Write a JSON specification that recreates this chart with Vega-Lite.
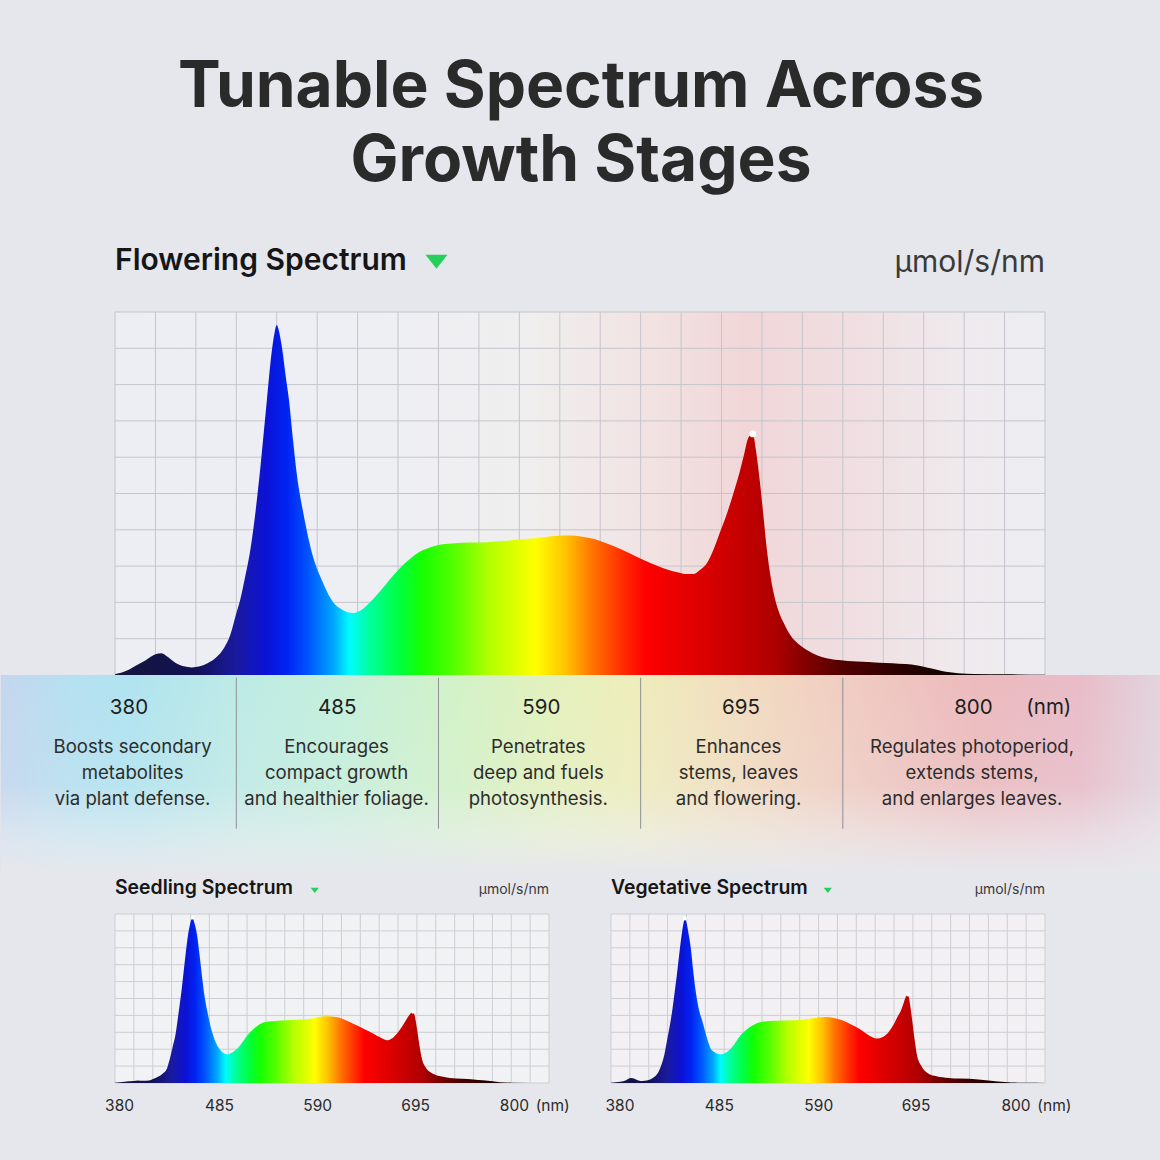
{
  "$schema": "https://vega.github.io/schema/vega-lite/v6.json",
  "background": "#e6e7ec",
  "padding": {"left": 0, "top": 56, "right": 0, "bottom": 60},
  "title": {
    "text": ["Tunable Spectrum Across", "Growth Stages"],
    "fontSize": 64,
    "font": "Inter",
    "fontWeight": 700,
    "color": "#2a2a2a",
    "lineHeight": 74,
    "anchor": "middle",
    "frame": "bounds",
    "offset": 52
  },
  "config": {
    "font": "Inter",
    "view": {"stroke": null},
    "text": {"font": "Inter"}
  },
  "datasets": {
    "gx": [
      {"wl": 380}, {"wl": 400}, {"wl": 420}, {"wl": 440}, {"wl": 460}, {"wl": 480}, {"wl": 500}, {"wl": 520},
      {"wl": 540}, {"wl": 560}, {"wl": 580}, {"wl": 600}, {"wl": 620}, {"wl": 640}, {"wl": 660}, {"wl": 680},
      {"wl": 700}, {"wl": 720}, {"wl": 740}, {"wl": 760}, {"wl": 780}, {"wl": 800}, {"wl": 820}, {"wl": 840}
    ],
    "gy": [
      {"v": 0}, {"v": 1}, {"v": 2}, {"v": 3}, {"v": 4}, {"v": 5}, {"v": 6}, {"v": 7}, {"v": 8}, {"v": 9}, {"v": 10}
    ],
    "flowering": [
      {"wl": 380, "v": 0.02}, {"wl": 385, "v": 0.1}, {"wl": 390, "v": 0.25}, {"wl": 395, "v": 0.4},
      {"wl": 400, "v": 0.57}, {"wl": 403, "v": 0.6}, {"wl": 406, "v": 0.5}, {"wl": 410, "v": 0.33},
      {"wl": 414, "v": 0.24}, {"wl": 418, "v": 0.21}, {"wl": 422, "v": 0.24}, {"wl": 426, "v": 0.33},
      {"wl": 430, "v": 0.48}, {"wl": 434, "v": 0.75}, {"wl": 437, "v": 1.1}, {"wl": 440, "v": 1.7},
      {"wl": 442, "v": 2.09}, {"wl": 444, "v": 2.6}, {"wl": 447, "v": 3.47}, {"wl": 449.5, "v": 4.5},
      {"wl": 452, "v": 5.77}, {"wl": 455, "v": 7.5}, {"wl": 457.5, "v": 8.9}, {"wl": 459, "v": 9.45},
      {"wl": 460, "v": 9.64}, {"wl": 461, "v": 9.5}, {"wl": 462.7, "v": 8.98}, {"wl": 464.5, "v": 8.2},
      {"wl": 466, "v": 7.6}, {"wl": 468, "v": 6.5}, {"wl": 470, "v": 5.5}, {"wl": 473.4, "v": 4.39},
      {"wl": 478, "v": 3.25}, {"wl": 482, "v": 2.65}, {"wl": 485, "v": 2.28}, {"wl": 488, "v": 2.0},
      {"wl": 491.5, "v": 1.83}, {"wl": 495, "v": 1.73}, {"wl": 498, "v": 1.71}, {"wl": 502, "v": 1.8},
      {"wl": 506, "v": 2.0}, {"wl": 511, "v": 2.3}, {"wl": 516, "v": 2.64}, {"wl": 521, "v": 2.95},
      {"wl": 526, "v": 3.2}, {"wl": 531, "v": 3.4}, {"wl": 536, "v": 3.52}, {"wl": 542, "v": 3.6},
      {"wl": 548, "v": 3.63}, {"wl": 556, "v": 3.65}, {"wl": 564, "v": 3.66}, {"wl": 572, "v": 3.69},
      {"wl": 580, "v": 3.73}, {"wl": 590, "v": 3.78}, {"wl": 598, "v": 3.83}, {"wl": 605, "v": 3.84},
      {"wl": 611, "v": 3.81}, {"wl": 617, "v": 3.75}, {"wl": 623, "v": 3.63}, {"wl": 630, "v": 3.47},
      {"wl": 638, "v": 3.26}, {"wl": 646, "v": 3.06}, {"wl": 652, "v": 2.93}, {"wl": 658, "v": 2.83},
      {"wl": 663, "v": 2.78}, {"wl": 666, "v": 2.78}, {"wl": 669, "v": 2.88}, {"wl": 673, "v": 3.1},
      {"wl": 676, "v": 3.45}, {"wl": 679, "v": 3.9}, {"wl": 683, "v": 4.5}, {"wl": 686, "v": 5.03},
      {"wl": 689, "v": 5.6}, {"wl": 691, "v": 6.04}, {"wl": 693.4, "v": 6.55}, {"wl": 695.5, "v": 6.64},
      {"wl": 697, "v": 6.2}, {"wl": 699, "v": 5.31}, {"wl": 700.7, "v": 4.4}, {"wl": 702.4, "v": 3.47},
      {"wl": 704, "v": 2.8}, {"wl": 705.7, "v": 2.28}, {"wl": 708, "v": 1.8}, {"wl": 710.6, "v": 1.45},
      {"wl": 714, "v": 1.1}, {"wl": 719, "v": 0.81}, {"wl": 725, "v": 0.6}, {"wl": 730, "v": 0.49},
      {"wl": 738, "v": 0.41}, {"wl": 747, "v": 0.37}, {"wl": 758, "v": 0.34}, {"wl": 771, "v": 0.3},
      {"wl": 777, "v": 0.26}, {"wl": 782, "v": 0.2}, {"wl": 787, "v": 0.14}, {"wl": 791, "v": 0.09},
      {"wl": 797, "v": 0.05}, {"wl": 805, "v": 0.03}, {"wl": 820, "v": 0.02}, {"wl": 840, "v": 0.01}
    ],
    "floweringPeaks": [{"wl": 695.5, "v": 6.64}],
    "seedling": [
      {"wl": 380, "v": 0.02}, {"wl": 390, "v": 0.08}, {"wl": 400, "v": 0.12}, {"wl": 404, "v": 0.15},
      {"wl": 410, "v": 0.13}, {"wl": 416, "v": 0.15}, {"wl": 421, "v": 0.25}, {"wl": 426, "v": 0.38},
      {"wl": 431, "v": 0.58}, {"wl": 435, "v": 0.85}, {"wl": 438, "v": 1.4}, {"wl": 441, "v": 2.1},
      {"wl": 444, "v": 2.82}, {"wl": 447.5, "v": 4.2}, {"wl": 451, "v": 5.7}, {"wl": 454, "v": 7.2},
      {"wl": 457, "v": 8.6}, {"wl": 460, "v": 9.5}, {"wl": 462, "v": 9.78}, {"wl": 464, "v": 9.5},
      {"wl": 467, "v": 8.75}, {"wl": 470, "v": 7.4}, {"wl": 472.5, "v": 6.18}, {"wl": 475, "v": 5.1},
      {"wl": 478, "v": 4.2}, {"wl": 482, "v": 3.2}, {"wl": 486.6, "v": 2.43}, {"wl": 491, "v": 2.0},
      {"wl": 495, "v": 1.78}, {"wl": 499, "v": 1.7}, {"wl": 503, "v": 1.78}, {"wl": 509.5, "v": 2.03},
      {"wl": 515, "v": 2.4}, {"wl": 520, "v": 2.8}, {"wl": 524, "v": 3.04}, {"wl": 530, "v": 3.35},
      {"wl": 536, "v": 3.55}, {"wl": 541, "v": 3.62}, {"wl": 550, "v": 3.67}, {"wl": 562, "v": 3.71},
      {"wl": 572, "v": 3.74}, {"wl": 583, "v": 3.77}, {"wl": 592, "v": 3.85}, {"wl": 600, "v": 3.93},
      {"wl": 605, "v": 3.95}, {"wl": 612, "v": 3.92}, {"wl": 619, "v": 3.85}, {"wl": 627, "v": 3.65},
      {"wl": 636, "v": 3.41}, {"wl": 645, "v": 3.17}, {"wl": 654, "v": 2.92}, {"wl": 661, "v": 2.7},
      {"wl": 668, "v": 2.53}, {"wl": 674, "v": 2.65}, {"wl": 680, "v": 3.0}, {"wl": 685, "v": 3.4},
      {"wl": 689.5, "v": 3.81}, {"wl": 693, "v": 4.1}, {"wl": 695.8, "v": 4.21}, {"wl": 698, "v": 3.9},
      {"wl": 700, "v": 3.22}, {"wl": 702.5, "v": 2.3}, {"wl": 705.3, "v": 1.44}, {"wl": 709, "v": 0.95},
      {"wl": 714, "v": 0.65}, {"wl": 720, "v": 0.48}, {"wl": 728, "v": 0.37}, {"wl": 735, "v": 0.3},
      {"wl": 748, "v": 0.25}, {"wl": 760, "v": 0.21}, {"wl": 770, "v": 0.16}, {"wl": 780, "v": 0.1},
      {"wl": 788, "v": 0.05}, {"wl": 800, "v": 0.02}, {"wl": 840, "v": 0.0}
    ],
    "seedlingPeaks": [{"wl": 462, "v": 9.78}, {"wl": 695.8, "v": 4.21}],
    "vegetative": [
      {"wl": 380, "v": 0.02}, {"wl": 390, "v": 0.07}, {"wl": 396, "v": 0.17}, {"wl": 401, "v": 0.3},
      {"wl": 405, "v": 0.25}, {"wl": 409, "v": 0.15}, {"wl": 413.5, "v": 0.12}, {"wl": 418, "v": 0.15},
      {"wl": 422, "v": 0.22}, {"wl": 425.8, "v": 0.35}, {"wl": 430, "v": 0.62}, {"wl": 433, "v": 1.0},
      {"wl": 436.4, "v": 1.64}, {"wl": 439, "v": 2.4}, {"wl": 442, "v": 3.3}, {"wl": 445.2, "v": 4.4},
      {"wl": 448, "v": 5.6}, {"wl": 450, "v": 6.5}, {"wl": 452.2, "v": 7.56}, {"wl": 455, "v": 8.8},
      {"wl": 457, "v": 9.5}, {"wl": 458.3, "v": 9.74}, {"wl": 460, "v": 9.5}, {"wl": 462, "v": 8.9},
      {"wl": 464.6, "v": 7.96}, {"wl": 467, "v": 6.7}, {"wl": 469.9, "v": 5.39}, {"wl": 473, "v": 4.4},
      {"wl": 477, "v": 3.62}, {"wl": 481, "v": 2.8}, {"wl": 485.8, "v": 2.03}, {"wl": 490, "v": 1.82},
      {"wl": 496.3, "v": 1.7}, {"wl": 501, "v": 1.78}, {"wl": 506.9, "v": 2.03}, {"wl": 512, "v": 2.4},
      {"wl": 517, "v": 2.8}, {"wl": 522.8, "v": 3.12}, {"wl": 530, "v": 3.4}, {"wl": 540.4, "v": 3.62},
      {"wl": 555, "v": 3.68}, {"wl": 575.6, "v": 3.71}, {"wl": 590, "v": 3.8}, {"wl": 600, "v": 3.88},
      {"wl": 607.4, "v": 3.91}, {"wl": 616, "v": 3.85}, {"wl": 625, "v": 3.71}, {"wl": 634, "v": 3.48},
      {"wl": 642.6, "v": 3.22}, {"wl": 650, "v": 2.95}, {"wl": 656, "v": 2.74}, {"wl": 662, "v": 2.63},
      {"wl": 668, "v": 2.72}, {"wl": 674.3, "v": 3.02}, {"wl": 680, "v": 3.5}, {"wl": 684, "v": 3.95},
      {"wl": 686.7, "v": 4.21}, {"wl": 690, "v": 4.7}, {"wl": 692.5, "v": 5.1}, {"wl": 694.8, "v": 5.23},
      {"wl": 696.8, "v": 4.7}, {"wl": 699, "v": 3.81}, {"wl": 701.5, "v": 2.7}, {"wl": 704.3, "v": 1.64},
      {"wl": 709, "v": 1.0}, {"wl": 716.6, "v": 0.55}, {"wl": 725, "v": 0.4}, {"wl": 737.8, "v": 0.3},
      {"wl": 750, "v": 0.26}, {"wl": 769.5, "v": 0.21}, {"wl": 780, "v": 0.15}, {"wl": 790, "v": 0.09},
      {"wl": 804.5, "v": 0.03}, {"wl": 820, "v": 0.01}, {"wl": 840, "v": 0.0}
    ],
    "vegetativePeaks": [{"wl": 458.3, "v": 9.74}, {"wl": 694.8, "v": 5.23}],
    "bands": [
      {"wl": 386.9, "t": "380"}, {"wl": 489.9, "t": "485"}, {"wl": 590.9, "t": "590"},
      {"wl": 689.6, "t": "695"}, {"wl": 804.6, "t": "800"}, {"wl": 841.9, "t": "(nm)"}
    ],
    "descriptions": [
      {"wl": 388.7, "t": "Boosts secondary\nmetabolites\nvia plant defense."},
      {"wl": 489.6, "t": "Encourages\ncompact growth\nand healthier foliage."},
      {"wl": 589.4, "t": "Penetrates\ndeep and fuels\nphotosynthesis."},
      {"wl": 688.4, "t": "Enhances\nstems, leaves\nand flowering."},
      {"wl": 803.9, "t": "Regulates photoperiod,\nextends stems,\nand enlarges leaves."}
    ],
    "dividers": [{"wl": 440}, {"wl": 540}, {"wl": 640}, {"wl": 740}],
    "seedlingTicks": [
      {"wl": 384.8, "t": "380"}, {"wl": 490.8, "t": "485"}, {"wl": 594.8, "t": "590"},
      {"wl": 698.7, "t": "695"}, {"wl": 803.3, "t": "800"}, {"wl": 843.9, "t": "(nm)"}
    ],
    "vegetativeTicks": [
      {"wl": 389.5, "t": "380"}, {"wl": 494.8, "t": "485"}, {"wl": 600.2, "t": "590"},
      {"wl": 703.3, "t": "695"}, {"wl": 809.3, "t": "800"}, {"wl": 849.9, "t": "(nm)"}
    ]
  },
  "spacing": 0,
  "bounds": "flush",
  "vconcat": [
    {
      "width": 930,
      "height": 363,
      "view": {
        "stroke": null,
        "fill": {"gradient": "linear", "x1": 0, "x2": 1, "y1": 0, "y2": 0, "stops": [
          {"offset": 0, "color": "#eceef4"}, {"offset": 0.3, "color": "#eeeff3"},
          {"offset": 0.45, "color": "#f0eeee"}, {"offset": 0.58, "color": "#f2e2e2"},
          {"offset": 0.68, "color": "#f1d6d8"}, {"offset": 0.8, "color": "#f0dfe2"},
          {"offset": 0.9, "color": "#efe9ec"}, {"offset": 1, "color": "#edeef2"}
        ]}
      },
      "layer": [
        {
          "data": {"name": "gx"},
          "mark": {"type": "rule", "color": "#c4c5cc", "strokeWidth": 1},
          "encoding": {
            "x": {"field": "wl", "type": "quantitative", "scale": {"domain": [380, 840], "nice": false, "zero": false}, "axis": null},
            "y": {"datum": 0, "type": "quantitative", "scale": {"domain": [0, 10], "nice": false, "zero": false}, "axis": null},
            "y2": {"datum": 10}
          }
        },
        {
          "data": {"name": "gy"},
          "mark": {"type": "rule", "color": "#c4c5cc", "strokeWidth": 1},
          "encoding": {
            "y": {"field": "v", "type": "quantitative", "scale": {"domain": [0, 10], "nice": false, "zero": false}, "axis": null},
            "x": {"datum": 380, "type": "quantitative", "scale": {"domain": [380, 840], "nice": false, "zero": false}, "axis": null},
            "x2": {"datum": 840}
          }
        },
        {
          "data": {"name": "flowering"},
          "mark": {"type": "area", "interpolate": "monotone", "color": {"gradient": "linear", "x1": 0, "x2": 1, "y1": 0, "y2": 0, "stops": [
            {"offset": 0, "color": "#16163a"}, {"offset": 0.087, "color": "#111155"},
            {"offset": 0.13, "color": "#1a1a9e"}, {"offset": 0.163, "color": "#0c12d6"},
            {"offset": 0.185, "color": "#0024f2"}, {"offset": 0.207, "color": "#0052ff"},
            {"offset": 0.235, "color": "#00a6ff"}, {"offset": 0.252, "color": "#00fbff"},
            {"offset": 0.274, "color": "#00ff9c"}, {"offset": 0.304, "color": "#00ff45"},
            {"offset": 0.33, "color": "#14ff00"}, {"offset": 0.365, "color": "#55ff00"},
            {"offset": 0.402, "color": "#b2ff00"}, {"offset": 0.452, "color": "#ffff00"},
            {"offset": 0.485, "color": "#ffc200"}, {"offset": 0.513, "color": "#ff7400"},
            {"offset": 0.543, "color": "#ff3300"}, {"offset": 0.57, "color": "#ff0000"},
            {"offset": 0.62, "color": "#e20000"}, {"offset": 0.674, "color": "#c40000"},
            {"offset": 0.707, "color": "#b00000"}, {"offset": 0.743, "color": "#820000"},
            {"offset": 0.783, "color": "#520000"}, {"offset": 0.837, "color": "#300000"},
            {"offset": 0.891, "color": "#160000"}, {"offset": 1, "color": "#050000"}
          ]}},
          "encoding": {
            "x": {"field": "wl", "type": "quantitative", "scale": {"domain": [380, 840], "nice": false, "zero": false}, "axis": null},
            "y": {"field": "v", "type": "quantitative", "scale": {"domain": [0, 10], "nice": false, "zero": false}, "axis": null}
          }
        },
        {
          "data": {"name": "floweringPeaks"},
          "mark": {"type": "point", "filled": true, "color": "#ffffff", "opacity": 1, "size": 45},
          "encoding": {
            "x": {"field": "wl", "type": "quantitative", "scale": {"domain": [380, 840], "nice": false, "zero": false}, "axis": null},
            "y": {"field": "v", "type": "quantitative", "scale": {"domain": [0, 10], "nice": false, "zero": false}, "axis": null}
          }
        },
        {
          "data": {"values": [{}]},
          "mark": {"type": "text", "text": "Flowering Spectrum", "align": "left", "baseline": "alphabetic", "fontSize": 30, "fontWeight": 600, "color": "#161616"},
          "encoding": {
            "x": {"datum": 380, "type": "quantitative", "scale": {"domain": [380, 840], "nice": false, "zero": false}, "axis": null},
            "y": {"datum": 11.146, "type": "quantitative", "scale": {"domain": [0, 10], "nice": false, "zero": false}, "axis": null}
          }
        },
        {
          "data": {"values": [{}]},
          "mark": {"type": "point", "shape": "M-1,-0.64L1,-0.64L0,0.64Z", "filled": true, "color": "#24d05a", "opacity": 1, "size": 484},
          "encoding": {
            "x": {"datum": 539, "type": "quantitative", "scale": {"domain": [380, 840], "nice": false, "zero": false}, "axis": null},
            "y": {"datum": 11.386, "type": "quantitative", "scale": {"domain": [0, 10], "nice": false, "zero": false}, "axis": null}
          }
        },
        {
          "data": {"values": [{}]},
          "mark": {"type": "text", "text": "µmol/s/nm", "align": "right", "baseline": "alphabetic", "fontSize": 30, "fontWeight": 400, "color": "#3a3a3a"},
          "encoding": {
            "x": {"datum": 840, "type": "quantitative", "scale": {"domain": [380, 840], "nice": false, "zero": false}, "axis": null},
            "y": {"datum": 11.096, "type": "quantitative", "scale": {"domain": [0, 10], "nice": false, "zero": false}, "axis": null}
          }
        }
      ]
    },
    {
      "width": 930,
      "height": 239,
      "view": {"stroke": null, "fill": null},
      "layer": [
        {
          "data": {"values": [{}]},
          "mark": {"type": "rect", "color": {"gradient": "linear", "x1": 0, "x2": 1, "y1": 0, "y2": 0, "stops": [
            {"offset": 0, "color": "#c4d6ee"}, {"offset": 0.06, "color": "#b6e0f0"},
            {"offset": 0.11, "color": "#b0e3f0"}, {"offset": 0.2, "color": "#bdeae6"},
            {"offset": 0.29, "color": "#c4efdc"}, {"offset": 0.39, "color": "#d2f2c8"},
            {"offset": 0.47, "color": "#e2f1bd"}, {"offset": 0.54, "color": "#eeeebb"},
            {"offset": 0.64, "color": "#f2dcc0"}, {"offset": 0.73, "color": "#f0ccc2"},
            {"offset": 0.84, "color": "#ecbabd"}, {"offset": 0.93, "color": "#e8bcc8"},
            {"offset": 1, "color": "#e2d4de"}
          ]}},
          "encoding": {
            "x": {"datum": 323.5, "type": "quantitative", "scale": {"domain": [380, 840], "nice": false, "zero": false}, "axis": null},
            "x2": {"datum": 897.5},
            "y": {"datum": 239, "type": "quantitative", "scale": {"domain": [0, 239], "nice": false, "zero": false}, "axis": null},
            "y2": {"datum": 40}
          }
        },
        {
          "data": {"values": [{}]},
          "mark": {"type": "rect", "color": {"gradient": "linear", "x1": 0, "x2": 0, "y1": 0, "y2": 1, "stops": [
            {"offset": 0, "color": "rgba(236,238,241,0)"}, {"offset": 0.55, "color": "rgba(236,238,241,0.12)"},
            {"offset": 0.78, "color": "rgba(236,238,241,0.55)"}, {"offset": 1, "color": "rgba(230,231,236,1)"}
          ]}},
          "encoding": {
            "x": {"datum": 323.5, "type": "quantitative", "scale": {"domain": [380, 840], "nice": false, "zero": false}, "axis": null},
            "x2": {"datum": 897.5},
            "y": {"datum": 239, "type": "quantitative", "scale": {"domain": [0, 239], "nice": false, "zero": false}, "axis": null},
            "y2": {"datum": 40}
          }
        },
        {
          "data": {"name": "dividers"},
          "mark": {"type": "rule", "color": "#8e9196", "strokeWidth": 1},
          "encoding": {
            "x": {"field": "wl", "type": "quantitative", "scale": {"domain": [380, 840], "nice": false, "zero": false}, "axis": null},
            "y": {"datum": 236.3, "type": "quantitative", "scale": {"domain": [0, 239], "nice": false, "zero": false}, "axis": null},
            "y2": {"datum": 85.3}
          }
        },
        {
          "data": {"name": "bands"},
          "mark": {"type": "text", "align": "center", "baseline": "alphabetic", "fontSize": 20.5, "fontWeight": 400, "color": "#1e1e1e"},
          "encoding": {
            "x": {"field": "wl", "type": "quantitative", "scale": {"domain": [380, 840], "nice": false, "zero": false}, "axis": null},
            "y": {"datum": 199.6, "type": "quantitative", "scale": {"domain": [0, 239], "nice": false, "zero": false}, "axis": null},
            "text": {"field": "t", "type": "nominal"}
          }
        },
        {
          "data": {"name": "descriptions"},
          "mark": {"type": "text", "align": "center", "baseline": "alphabetic", "fontSize": 18.6, "fontWeight": 400, "color": "#2d2d2d", "lineBreak": "\n", "lineHeight": 26},
          "encoding": {
            "x": {"field": "wl", "type": "quantitative", "scale": {"domain": [380, 840], "nice": false, "zero": false}, "axis": null},
            "y": {"datum": 161.3, "type": "quantitative", "scale": {"domain": [0, 239], "nice": false, "zero": false}, "axis": null},
            "text": {"field": "t", "type": "nominal"}
          }
        }
      ]
    },
    {
      "spacing": 62,
      "bounds": "flush",
      "hconcat": [
        {
          "width": 434,
          "height": 169,
          "view": {"stroke": null, "fill": "#f1f2f3"},
          "layer": [
            {
              "data": {"name": "gx"},
              "mark": {"type": "rule", "color": "#cdced4", "strokeWidth": 1},
              "encoding": {
                "x": {"field": "wl", "type": "quantitative", "scale": {"domain": [380, 840], "nice": false, "zero": false}, "axis": null},
                "y": {"datum": 0, "type": "quantitative", "scale": {"domain": [0, 10], "nice": false, "zero": false}, "axis": null},
                "y2": {"datum": 10}
              }
            },
            {
              "data": {"name": "gy"},
              "mark": {"type": "rule", "color": "#cdced4", "strokeWidth": 1},
              "encoding": {
                "y": {"field": "v", "type": "quantitative", "scale": {"domain": [0, 10], "nice": false, "zero": false}, "axis": null},
                "x": {"datum": 380, "type": "quantitative", "scale": {"domain": [380, 840], "nice": false, "zero": false}, "axis": null},
                "x2": {"datum": 840}
              }
            },
            {
              "data": {"name": "seedling"},
              "mark": {"type": "area", "interpolate": "monotone", "color": {"gradient": "linear", "x1": 0, "x2": 1, "y1": 0, "y2": 0, "stops": [
                {"offset": 0, "color": "#16163a"}, {"offset": 0.087, "color": "#111155"},
                {"offset": 0.13, "color": "#1a1a9e"}, {"offset": 0.163, "color": "#0c12d6"},
                {"offset": 0.185, "color": "#0024f2"}, {"offset": 0.207, "color": "#0052ff"},
                {"offset": 0.235, "color": "#00a6ff"}, {"offset": 0.255, "color": "#00fbff"},
                {"offset": 0.277, "color": "#00ff9c"}, {"offset": 0.307, "color": "#00ff45"},
                {"offset": 0.335, "color": "#14ff00"}, {"offset": 0.37, "color": "#55ff00"},
                {"offset": 0.41, "color": "#b2ff00"}, {"offset": 0.46, "color": "#ffff00"},
                {"offset": 0.49, "color": "#ffc200"}, {"offset": 0.52, "color": "#ff7400"},
                {"offset": 0.55, "color": "#ff3300"}, {"offset": 0.575, "color": "#ff0000"},
                {"offset": 0.625, "color": "#e20000"}, {"offset": 0.674, "color": "#c40000"},
                {"offset": 0.707, "color": "#b00000"}, {"offset": 0.743, "color": "#820000"},
                {"offset": 0.783, "color": "#520000"}, {"offset": 0.837, "color": "#300000"},
                {"offset": 0.891, "color": "#160000"}, {"offset": 1, "color": "#050000"}
              ]}},
              "encoding": {
                "x": {"field": "wl", "type": "quantitative", "scale": {"domain": [380, 840], "nice": false, "zero": false}, "axis": null},
                "y": {"field": "v", "type": "quantitative", "scale": {"domain": [0, 10], "nice": false, "zero": false}, "axis": null}
              }
            },
            {
              "data": {"name": "seedlingPeaks"},
              "mark": {"type": "point", "filled": true, "color": "#ffffff", "opacity": 1, "size": 14},
              "encoding": {
                "x": {"field": "wl", "type": "quantitative", "scale": {"domain": [380, 840], "nice": false, "zero": false}, "axis": null},
                "y": {"field": "v", "type": "quantitative", "scale": {"domain": [0, 10], "nice": false, "zero": false}, "axis": null}
              }
            },
            {
              "data": {"values": [{}]},
              "mark": {"type": "text", "text": "Seedling Spectrum", "align": "left", "baseline": "alphabetic", "fontSize": 19.4, "fontWeight": 600, "color": "#161616"},
              "encoding": {
                "x": {"datum": 380, "type": "quantitative", "scale": {"domain": [380, 840], "nice": false, "zero": false}, "axis": null},
                "y": {"datum": 11.166, "type": "quantitative", "scale": {"domain": [0, 10], "nice": false, "zero": false}, "axis": null}
              }
            },
            {
              "data": {"values": [{}]},
              "mark": {"type": "point", "shape": "M-1,-0.64L1,-0.64L0,0.64Z", "filled": true, "color": "#24d05a", "opacity": 1, "size": 69},
              "encoding": {
                "x": {"datum": 591.7, "type": "quantitative", "scale": {"domain": [380, 840], "nice": false, "zero": false}, "axis": null},
                "y": {"datum": 11.4, "type": "quantitative", "scale": {"domain": [0, 10], "nice": false, "zero": false}, "axis": null}
              }
            },
            {
              "data": {"values": [{}]},
              "mark": {"type": "text", "text": "µmol/s/nm", "align": "right", "baseline": "alphabetic", "fontSize": 14, "fontWeight": 400, "color": "#3a3a3a"},
              "encoding": {
                "x": {"datum": 840, "type": "quantitative", "scale": {"domain": [380, 840], "nice": false, "zero": false}, "axis": null},
                "y": {"datum": 11.166, "type": "quantitative", "scale": {"domain": [0, 10], "nice": false, "zero": false}, "axis": null}
              }
            },
            {
              "data": {"name": "seedlingTicks"},
              "mark": {"type": "text", "align": "center", "baseline": "alphabetic", "fontSize": 15.5, "fontWeight": 400, "color": "#2a2a2a"},
              "encoding": {
                "x": {"field": "wl", "type": "quantitative", "scale": {"domain": [380, 840], "nice": false, "zero": false}, "axis": null},
                "y": {"datum": -1.657, "type": "quantitative", "scale": {"domain": [0, 10], "nice": false, "zero": false}, "axis": null},
                "text": {"field": "t", "type": "nominal"}
              }
            }
          ]
        },
        {
          "width": 434,
          "height": 169,
          "view": {"stroke": null, "fill": "#f2f0f2"},
          "layer": [
            {
              "data": {"name": "gx"},
              "mark": {"type": "rule", "color": "#cdced4", "strokeWidth": 1},
              "encoding": {
                "x": {"field": "wl", "type": "quantitative", "scale": {"domain": [380, 840], "nice": false, "zero": false}, "axis": null},
                "y": {"datum": 0, "type": "quantitative", "scale": {"domain": [0, 10], "nice": false, "zero": false}, "axis": null},
                "y2": {"datum": 10}
              }
            },
            {
              "data": {"name": "gy"},
              "mark": {"type": "rule", "color": "#cdced4", "strokeWidth": 1},
              "encoding": {
                "y": {"field": "v", "type": "quantitative", "scale": {"domain": [0, 10], "nice": false, "zero": false}, "axis": null},
                "x": {"datum": 380, "type": "quantitative", "scale": {"domain": [380, 840], "nice": false, "zero": false}, "axis": null},
                "x2": {"datum": 840}
              }
            },
            {
              "data": {"name": "vegetative"},
              "mark": {"type": "area", "interpolate": "monotone", "color": {"gradient": "linear", "x1": 0, "x2": 1, "y1": 0, "y2": 0, "stops": [
                {"offset": 0, "color": "#16163a"}, {"offset": 0.087, "color": "#111155"},
                {"offset": 0.13, "color": "#1a1a9e"}, {"offset": 0.163, "color": "#0c12d6"},
                {"offset": 0.185, "color": "#0024f2"}, {"offset": 0.207, "color": "#0052ff"},
                {"offset": 0.235, "color": "#00a6ff"}, {"offset": 0.252, "color": "#00fbff"},
                {"offset": 0.274, "color": "#00ff9c"}, {"offset": 0.304, "color": "#00ff45"},
                {"offset": 0.33, "color": "#14ff00"}, {"offset": 0.365, "color": "#55ff00"},
                {"offset": 0.405, "color": "#b2ff00"}, {"offset": 0.455, "color": "#ffff00"},
                {"offset": 0.487, "color": "#ffc200"}, {"offset": 0.515, "color": "#ff7400"},
                {"offset": 0.545, "color": "#ff3300"}, {"offset": 0.572, "color": "#ff0000"},
                {"offset": 0.62, "color": "#e20000"}, {"offset": 0.674, "color": "#c40000"},
                {"offset": 0.707, "color": "#b00000"}, {"offset": 0.743, "color": "#820000"},
                {"offset": 0.783, "color": "#520000"}, {"offset": 0.837, "color": "#300000"},
                {"offset": 0.891, "color": "#160000"}, {"offset": 1, "color": "#050000"}
              ]}},
              "encoding": {
                "x": {"field": "wl", "type": "quantitative", "scale": {"domain": [380, 840], "nice": false, "zero": false}, "axis": null},
                "y": {"field": "v", "type": "quantitative", "scale": {"domain": [0, 10], "nice": false, "zero": false}, "axis": null}
              }
            },
            {
              "data": {"name": "vegetativePeaks"},
              "mark": {"type": "point", "filled": true, "color": "#ffffff", "opacity": 1, "size": 16},
              "encoding": {
                "x": {"field": "wl", "type": "quantitative", "scale": {"domain": [380, 840], "nice": false, "zero": false}, "axis": null},
                "y": {"field": "v", "type": "quantitative", "scale": {"domain": [0, 10], "nice": false, "zero": false}, "axis": null}
              }
            },
            {
              "data": {"values": [{}]},
              "mark": {"type": "text", "text": "Vegetative Spectrum", "align": "left", "baseline": "alphabetic", "fontSize": 19.4, "fontWeight": 600, "color": "#161616"},
              "encoding": {
                "x": {"datum": 380, "type": "quantitative", "scale": {"domain": [380, 840], "nice": false, "zero": false}, "axis": null},
                "y": {"datum": 11.166, "type": "quantitative", "scale": {"domain": [0, 10], "nice": false, "zero": false}, "axis": null}
              }
            },
            {
              "data": {"values": [{}]},
              "mark": {"type": "point", "shape": "M-1,-0.64L1,-0.64L0,0.64Z", "filled": true, "color": "#24d05a", "opacity": 1, "size": 69},
              "encoding": {
                "x": {"datum": 609.8, "type": "quantitative", "scale": {"domain": [380, 840], "nice": false, "zero": false}, "axis": null},
                "y": {"datum": 11.4, "type": "quantitative", "scale": {"domain": [0, 10], "nice": false, "zero": false}, "axis": null}
              }
            },
            {
              "data": {"values": [{}]},
              "mark": {"type": "text", "text": "µmol/s/nm", "align": "right", "baseline": "alphabetic", "fontSize": 14, "fontWeight": 400, "color": "#3a3a3a"},
              "encoding": {
                "x": {"datum": 840, "type": "quantitative", "scale": {"domain": [380, 840], "nice": false, "zero": false}, "axis": null},
                "y": {"datum": 11.166, "type": "quantitative", "scale": {"domain": [0, 10], "nice": false, "zero": false}, "axis": null}
              }
            },
            {
              "data": {"name": "vegetativeTicks"},
              "mark": {"type": "text", "align": "center", "baseline": "alphabetic", "fontSize": 15.5, "fontWeight": 400, "color": "#2a2a2a"},
              "encoding": {
                "x": {"field": "wl", "type": "quantitative", "scale": {"domain": [380, 840], "nice": false, "zero": false}, "axis": null},
                "y": {"datum": -1.657, "type": "quantitative", "scale": {"domain": [0, 10], "nice": false, "zero": false}, "axis": null},
                "text": {"field": "t", "type": "nominal"}
              }
            }
          ]
        }
      ]
    }
  ]
}
